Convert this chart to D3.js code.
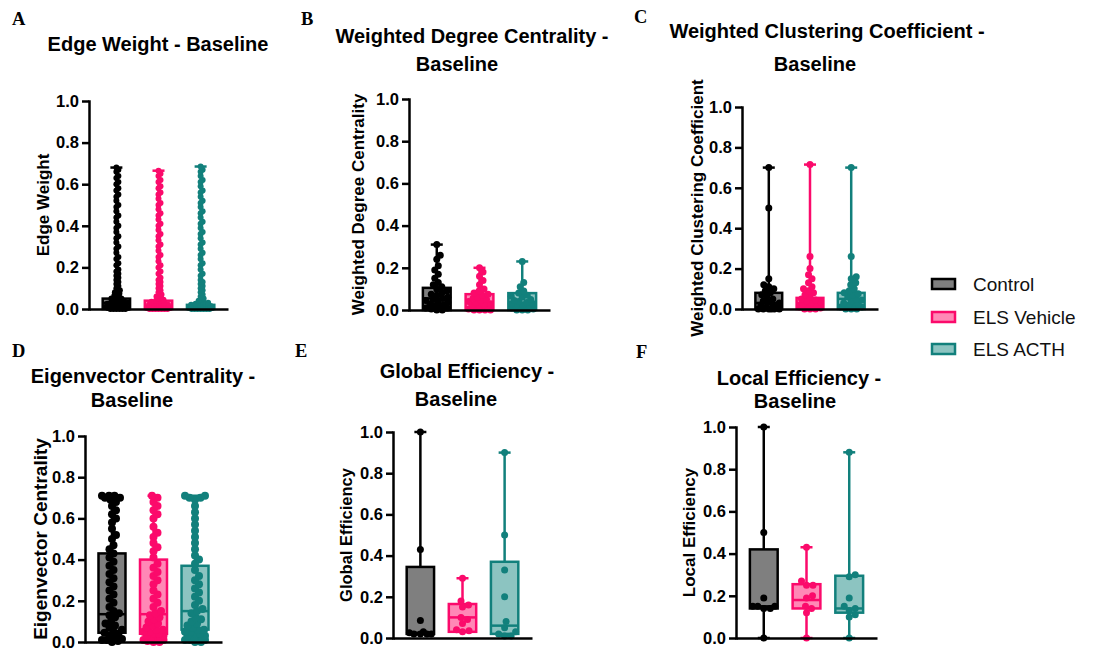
<!DOCTYPE html>
<html><head><meta charset="utf-8">
<script src="https://cdn.jsdelivr.net/npm/d3@7"></script>
<style>body{margin:0;background:#fff}svg{display:block}</style>
</head><body>
<svg id="fig" width="1101" height="650"></svg>
<script>
// Groups and their colours
const groups = ["Control", "ELS Vehicle", "ELS ACTH"];
const strokeColors = ["#000000", "#fb0a6b", "#12807c"];
const fillColors = ["#7f7f7f", "#ff88b6", "#8cc4c1"];
const yTicks = [0, 0.2, 0.4, 0.6, 0.8, 1.0];

// A. Edge weight (per edge)
const edgeControl = [0.68,0.67,0.66,0.64,0.63,0.61,0.60,0.58,0.57,0.55,0.54,0.52,0.50,0.49,0.47,0.45,0.44,0.42,0.40,0.39,0.37,0.35,0.34,0.32,0.30,0.29,0.27,0.25,0.24,0.22,0.21,0.19,0.18,0.17,0.16,0.15,0.14,0.13,0.12,0.11,0.10,0.09,0.085,0.08,0.075,0.07,0.065,0.06,0.055,0.05,0.05,0.045,0.045,0.04,0.04,0.035,0.035,0.03,0.03,0.03,0.025,0.025,0.02,0.02,0.02,0.015,0.015,0.01,0.01,0.01,0.005,0.005,0,0,0,0,0,0];
const edgeVehicle = [0.665,0.65,0.64,0.62,0.61,0.59,0.58,0.56,0.55,0.53,0.51,0.50,0.48,0.46,0.45,0.43,0.41,0.40,0.38,0.36,0.35,0.33,0.31,0.30,0.28,0.26,0.25,0.23,0.21,0.20,0.18,0.17,0.15,0.14,0.13,0.12,0.11,0.10,0.09,0.08,0.07,0.065,0.06,0.055,0.05,0.045,0.04,0.04,0.035,0.035,0.03,0.03,0.025,0.025,0.02,0.02,0.02,0.015,0.015,0.01,0.01,0.01,0.005,0.005,0.005,0,0,0,0,0,0,0];
const edgeACTH = [0.685,0.67,0.66,0.64,0.62,0.61,0.59,0.57,0.56,0.54,0.52,0.51,0.49,0.47,0.46,0.44,0.42,0.41,0.39,0.37,0.36,0.34,0.32,0.31,0.29,0.27,0.26,0.24,0.22,0.21,0.19,0.17,0.16,0.14,0.13,0.12,0.11,0.10,0.09,0.08,0.07,0.06,0.05,0.045,0.04,0.035,0.03,0.03,0.025,0.025,0.02,0.02,0.02,0.015,0.015,0.015,0.01,0.01,0.01,0.005,0.005,0.005,0.005,0,0,0,0,0,0,0];
// five-number summaries: [min, q1, median, q3, max]
const edgeBox = [[0,0,0.03,0.05,0.68],[0,0,0.01,0.04,0.665],[0,0,0.005,0.02,0.685]];

// B. Weighted degree centrality (per node)
const degreeControl = [0.31,0.26,0.24,0.21,0.19,0.17,0.15,0.13,0.12,0.11,0.10,0.09,0.08,0.075,0.07,0.06,0.055,0.05,0.045,0.04,0.035,0.03,0.025,0.02,0.015,0.01,0.01,0.005,0,0];
const degreeVehicle = [0.20,0.18,0.16,0.14,0.12,0.10,0.09,0.08,0.075,0.07,0.06,0.055,0.05,0.045,0.04,0.035,0.03,0.025,0.02,0.02,0.015,0.01,0.01,0.005,0,0,0,0];
const degreeACTH = [0.23,0.13,0.11,0.09,0.08,0.07,0.065,0.06,0.05,0.045,0.04,0.035,0.03,0.03,0.025,0.02,0.02,0.015,0.01,0.01,0.005,0,0,0];
const degreeBox = [[0,0,0.055,0.105,0.31],[0,0,0.035,0.075,0.20],[0,0,0.03,0.08,0.23]];

// C. Weighted clustering coefficient (per node)
const clusterControl = [0.70,0.50,0.15,0.12,0.11,0.10,0.09,0.08,0.07,0.06,0.05,0.04,0.035,0.03,0.02,0.02,0.01,0.01,0,0,0,0,0,0];
const clusterVehicle = [0.715,0.26,0.20,0.17,0.15,0.13,0.11,0.10,0.09,0.08,0.07,0.06,0.05,0.045,0.04,0.035,0.03,0.025,0.02,0.015,0.01,0.01,0.005,0,0,0];
const clusterACTH = [0.70,0.26,0.16,0.15,0.13,0.12,0.10,0.09,0.08,0.075,0.07,0.06,0.05,0.045,0.04,0.03,0.025,0.02,0.02,0.01,0.01,0,0,0];
const clusterBox = [[0,0,0.03,0.08,0.70],[0,0,0.03,0.055,0.715],[0,0,0.05,0.08,0.70]];

// D. Eigenvector centrality (per node)
const eigenControl = [0.71,0.71,0.71,0.70,0.70,0.69,0.68,0.66,0.64,0.62,0.60,0.58,0.55,0.52,0.50,0.47,0.45,0.43,0.41,0.39,0.37,0.35,0.33,0.31,0.29,0.27,0.25,0.23,0.21,0.19,0.17,0.15,0.14,0.13,0.12,0.10,0.09,0.08,0.07,0.06,0.05,0.045,0.04,0.03,0.02,0.015,0.01,0.01,0.005,0];
const eigenVehicle = [0.71,0.70,0.68,0.66,0.64,0.62,0.60,0.56,0.53,0.51,0.48,0.46,0.44,0.41,0.38,0.36,0.34,0.32,0.30,0.28,0.25,0.23,0.21,0.19,0.17,0.15,0.14,0.13,0.12,0.11,0.10,0.09,0.08,0.07,0.06,0.06,0.05,0.05,0.04,0.04,0.03,0.03,0.02,0.02,0.015,0.01,0.01,0.005,0,0];
const eigenACTH = [0.71,0.71,0.70,0.70,0.69,0.66,0.63,0.60,0.57,0.54,0.51,0.48,0.45,0.42,0.40,0.38,0.35,0.32,0.30,0.28,0.26,0.24,0.22,0.20,0.18,0.16,0.15,0.14,0.12,0.11,0.10,0.09,0.08,0.07,0.06,0.06,0.05,0.05,0.04,0.04,0.03,0.03,0.02,0.02,0.02,0.01,0.01,0.01,0,0];
const eigenBox = [[0,0.045,0.135,0.43,0.71],[0,0.04,0.135,0.40,0.71],[0,0.06,0.15,0.37,0.71]];

// E. Global efficiency (per animal)
const globalControl = [1.0,0.43,0.085,0.03,0.025,0.02,0.02,0.02,0.02];
const globalVehicle = [0.29,0.18,0.16,0.15,0.10,0.09,0.07,0.04,0.035,0.03];
const globalACTH = [0.90,0.50,0.33,0.20,0.08,0.05,0.03,0.02,0.01,0.01];
const globalBox = [[0.02,0.02,0.025,0.345,1.0],[0.03,0.03,0.10,0.165,0.29],[0.01,0.02,0.06,0.37,0.90]];

// F. Local efficiency (per animal)
const localControl = [1.0,0.5,0.19,0.15,0.15,0.15,0.14,0.14,0];
const localVehicle = [0.43,0.27,0.25,0.25,0.20,0.19,0.15,0.14,0.12,0];
const localACTH = [0.88,0.30,0.29,0.19,0.15,0.14,0.13,0.11,0.10,0];
const localBox = [[0,0.14,0.15,0.42,1.0],[0,0.14,0.18,0.255,0.43],[0,0.12,0.14,0.295,0.88]];

// Panel layout (sp = how tightly the points may overlap in the swarm)
const panels = [
  {letter:"A", lx:12, ly:25, title:[["Edge Weight - Baseline",158,51]], ylabel:"Edge Weight", labX:49, labSize:17,
   ax:89, xEnd:228, yTop:101, yBot:309, r:3, sp:0.45, points:[edgeControl,edgeVehicle,edgeACTH], box:edgeBox},
  {letter:"B", lx:301, ly:25, title:[["Weighted Degree Centrality -",472,43],["Baseline",457,71]], ylabel:"Weighted Degree Centrality", labX:364, labSize:17,
   ax:409, xEnd:550, yTop:99, yBot:310, r:3.5, sp:0.75, points:[degreeControl,degreeVehicle,degreeACTH], box:degreeBox},
  {letter:"C", lx:634, ly:23, title:[["Weighted Clustering Coefficient -",827,38],["Baseline",815,71]], ylabel:"Weighted Clustering Coefficient", labX:703, labSize:17,
   ax:742, xEnd:878, yTop:107, yBot:309, r:3.5, sp:0.75, points:[clusterControl,clusterVehicle,clusterACTH], box:clusterBox},
  {letter:"D", lx:12, ly:357, title:[["Eigenvector Centrality -",143,383],["Baseline",132,407]], ylabel:"Eigenvector Centrality", labX:47, labSize:19,
   ax:85, xEnd:222, yTop:436, yBot:642, r:4, sp:0.7, points:[eigenControl,eigenVehicle,eigenACTH], box:eigenBox},
  {letter:"E", lx:295, ly:357, title:[["Global Efficiency -",467,378],["Baseline",456,406]], ylabel:"Global Efficiency", labX:352, labSize:16.5,
   ax:393, xEnd:532, yTop:432, yBot:638, r:3.5, sp:0.9, points:[globalControl,globalVehicle,globalACTH], box:globalBox},
  {letter:"F", lx:636, ly:358, title:[["Local Efficiency -",799,385],["Baseline",795,408]], ylabel:"Local Efficiency", labX:695, labSize:17,
   ax:736, xEnd:877, yTop:427, yBot:638, r:3.5, sp:0.9, points:[localControl,localVehicle,localACTH], box:localBox}
];

const svg = d3.select("#fig");
const SANS = "'Liberation Sans', Arial, Helvetica, sans-serif";
const SERIF = "'Liberation Serif', 'Times New Roman', serif";
const LW = 2.5;

// Simple beeswarm: place each point as close to the centre as possible
function swarm(vals, y, r, half, sp) {
  const sorted = vals.slice().sort((a, b) => a - b);
  const placed = [];
  const minD = 2 * r * sp;
  const step = 0.5;
  const cands = [0];
  for (let k = 1; k * step <= half; k++) { cands.push(k * step, -k * step); }
  sorted.forEach(v => {
    const py = y(v);
    let best = null, bestScore = -Infinity;
    for (const dx of cands) {
      let md = Infinity;
      for (const p of placed) {
        const d = Math.hypot(p.dx - dx, p.y - py);
        if (d < md) md = d;
      }
      if (md >= minD) { best = dx; break; }
      if (md > bestScore) { bestScore = md; best = dx; }
    }
    placed.push({v, dx: best, y: py});
  });
  return placed;
}

panels.forEach(p => {
  const g = svg.append("g");
  const y = d3.scaleLinear().domain([0, 1]).range([p.yBot, p.yTop]);
  const x = d3.scalePoint().domain(groups).range([p.ax, p.xEnd]).padding(0.65);
  const bw = x.step() * 0.65;

  // panel letter
  g.append("text").attr("x", p.lx).attr("y", p.ly).text(p.letter)
    .attr("font-family", SERIF).attr("font-weight", "bold").attr("font-size", 18.5);

  // title
  p.title.forEach(t => {
    g.append("text").attr("x", t[1]).attr("y", t[2]).attr("text-anchor", "middle").text(t[0])
      .attr("font-family", SANS).attr("font-weight", "bold").attr("font-size", 20);
  });

  // y label
  g.append("text")
    .attr("transform", `translate(${p.labX},${(p.yTop + p.yBot) / 2}) rotate(-90)`)
    .attr("text-anchor", "middle").text(p.ylabel)
    .attr("font-family", SANS).attr("font-weight", "bold").attr("font-size", p.labSize);

  // boxes
  groups.forEach((grp, i) => {
    const cx = x(grp);
    const [mn, q1, med, q3, mx] = p.box[i];
    const sc = strokeColors[i];
    const bg = g.append("g");
    bg.append("rect").attr("x", cx - bw / 2).attr("y", y(q3)).attr("width", bw)
      .attr("height", Math.max(0, y(q1) - y(q3))).attr("fill", fillColors[i])
      .attr("stroke", sc).attr("stroke-width", LW);
    bg.append("line").attr("x1", cx).attr("x2", cx).attr("y1", y(q3)).attr("y2", y(mx))
      .attr("stroke", sc).attr("stroke-width", LW);
    bg.append("line").attr("x1", cx).attr("x2", cx).attr("y1", y(q1)).attr("y2", y(mn))
      .attr("stroke", sc).attr("stroke-width", LW);
    [mn, mx].forEach(v => bg.append("line").attr("x1", cx - 6).attr("x2", cx + 6)
      .attr("y1", y(v)).attr("y2", y(v)).attr("stroke", sc).attr("stroke-width", LW));
    bg.append("line").attr("x1", cx - bw / 2).attr("x2", cx + bw / 2).attr("y1", y(med)).attr("y2", y(med))
      .attr("stroke", sc).attr("stroke-width", LW);

    // individual values
    const pts = swarm(p.points[i], y, p.r, bw / 2 - p.r + 1, p.sp);
    bg.selectAll("circle").data(pts).join("circle")
      .attr("cx", d => cx + d.dx).attr("cy", d => d.y).attr("r", p.r).attr("fill", sc);
  });

  // axes
  const ya = g.append("g").attr("transform", `translate(${p.ax},0)`)
    .call(d3.axisLeft(y).tickValues(yTicks).tickFormat(d3.format(".1f")).tickSize(7).tickSizeOuter(0).tickPadding(3));
  const xa = g.append("g").attr("transform", `translate(0,${p.yBot})`)
    .call(d3.axisBottom(x).tickSize(0).tickSizeOuter(0).tickFormat(""));
  [ya, xa].forEach(a => {
    a.selectAll("path, line").attr("stroke", "#000").attr("stroke-width", LW);
    a.selectAll("text").attr("font-family", SANS).attr("font-weight", "bold").attr("font-size", 16.5).attr("fill", "#000");
  });
  ya.select(".domain").attr("stroke-linecap", "square");
});

// legend
const leg = svg.append("g");
groups.forEach((grp, i) => {
  const cy = [284, 317, 349][i];
  leg.append("rect").attr("x", 932).attr("y", cy - 5).attr("width", 23).attr("height", 10)
    .attr("fill", fillColors[i]).attr("stroke", strokeColors[i]).attr("stroke-width", LW);
  leg.append("text").attr("x", 973).attr("y", cy + 7).text(grp)
    .attr("font-family", SANS).attr("font-size", 19).attr("fill", "#111");
});
</script>
</body></html>
